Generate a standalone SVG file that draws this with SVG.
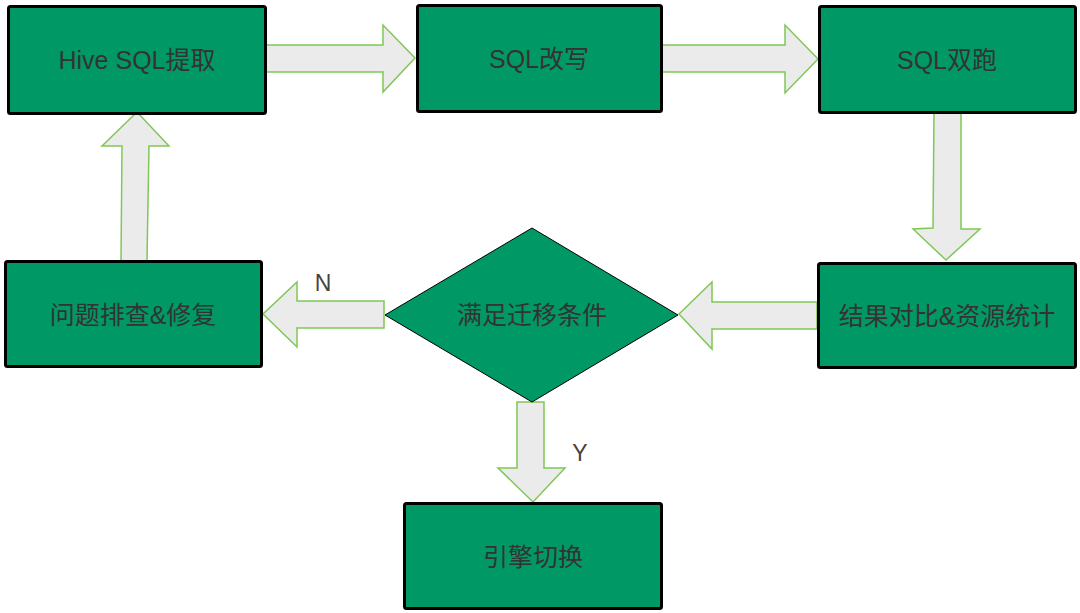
<svg xmlns="http://www.w3.org/2000/svg" width="1080" height="613" viewBox="0 0 1080 613">
<style>
.box{fill:#009865;stroke:#000;stroke-width:3;}
.dia{fill:#009865;stroke:#000;stroke-width:1;}
.arr{fill:#ebebeb;stroke:#7fc756;stroke-width:1.5;stroke-linejoin:miter;}
.t{font-family:"Liberation Sans","Noto Sans CJK SC",sans-serif;font-size:25px;fill:#333;text-anchor:middle;dominant-baseline:central;}
.lbl{font-family:"Liberation Sans","Noto Sans CJK SC",sans-serif;font-size:23px;fill:#444;text-anchor:middle;}
</style>
<rect width="1080" height="613" fill="#fff"/>
<g id="connectors">
<polygon class="arr" points="265,45 383,45 383,25 415,58 383,92 383,72 265,72"/>
<polygon class="arr" points="662,45 785,45 785,25 818,59 785,93 785,72 662,72"/>
<polygon class="arr" points="934,112 961,113 961,229 980,229 946,260 913,229 933,228"/>
<polygon class="arr" points="817,302 712,302 712,282 679,314 712,349 712,329 817,329"/>
<polygon class="arr" points="384,301 297,301 297,282 263,314 297,347 297,328 384,328"/>
<polygon class="arr" points="121,261 147,261 149,146 169,146 137,112 102,146 122,146"/>
<polygon class="arr" points="517,402 544,402 544,468 565,468 533,502 498,468 517,468"/>
<text class="lbl" x="323" y="291">N</text>
<text class="lbl" x="580" y="461">Y</text>
</g>
<g id="node-extract">
<rect class="box" x="8.5" y="6.5" width="257" height="107" rx="2"/>
<text class="t" x="137" y="60">Hive SQL提取</text>
</g>
<g id="node-rewrite">
<rect class="box" x="417.5" y="5.5" width="244" height="106" rx="2"/>
<text class="t" x="539" y="59">SQL改写</text>
</g>
<g id="node-dualrun">
<rect class="box" x="819.5" y="6.5" width="256" height="106" rx="2"/>
<text class="t" x="947" y="60">SQL双跑</text>
</g>
<g id="node-compare">
<rect class="box" x="818.5" y="263.5" width="257" height="104" rx="2"/>
<text class="t" x="947" y="316">结果对比&amp;资源统计</text>
</g>
<g id="node-decision">
<polygon class="dia" points="532,228 678,315 532,402 385,315"/>
<text class="t" x="532" y="315">满足迁移条件</text>
</g>
<g id="node-fix">
<rect class="box" x="5.5" y="261.5" width="256" height="105" rx="2"/>
<text class="t" x="133" y="315">问题排查&amp;修复</text>
</g>
<g id="node-switch">
<rect class="box" x="404.5" y="503.5" width="257" height="105" rx="2"/>
<text class="t" x="533" y="557">引擎切换</text>
</g>
</svg>
